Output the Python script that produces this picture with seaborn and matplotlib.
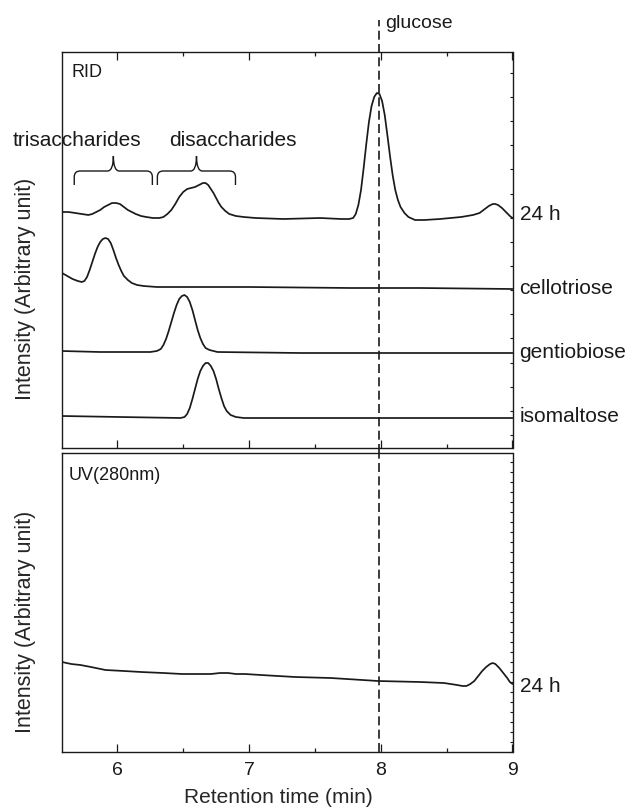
import numpy as np
import pandas as pd
import matplotlib
matplotlib.use("Agg")
import matplotlib.pyplot as plt
import matplotlib.transforms as mtrans
from matplotlib.path import Path
from matplotlib.patches import PathPatch
from matplotlib.ticker import MultipleLocator
import seaborn as sns

# ---------------- data ----------------
rid_24h_time = [5.58, 5.63, 5.68, 5.73, 5.78, 5.81, 5.84, 5.87, 5.90, 5.93, 5.96, 5.99,
                6.02, 6.05, 6.08, 6.11, 6.14, 6.18, 6.22, 6.27, 6.32, 6.35, 6.38, 6.41,
                6.44, 6.47, 6.50, 6.53, 6.56, 6.59, 6.62, 6.65, 6.67, 6.69, 6.71, 6.73,
                6.75, 6.77, 6.79, 6.82, 6.85, 6.90, 6.96, 7.05, 7.26, 7.54, 7.70, 7.76,
                7.79, 7.81, 7.83, 7.85, 7.87, 7.89, 7.91, 7.93, 7.95, 7.97, 7.99, 8.01,
                8.03, 8.05, 8.07, 8.09, 8.11, 8.13, 8.15, 8.18, 8.21, 8.26, 8.33, 8.45,
                8.61, 8.70, 8.75, 8.79, 8.82, 8.85, 8.87, 8.89, 8.92, 8.95, 8.98, 9.00]
rid_24h_int = [236, 236, 235, 234, 233, 234, 236, 238, 241, 243, 245, 245,
               244, 241, 238, 236, 234, 232, 231, 230, 230, 231, 234, 238,
               244, 251, 256, 259, 260, 261, 263, 265, 265, 263, 259, 255,
               250, 245, 241, 237, 234, 232, 231, 230, 229, 230, 229, 229,
               230, 234, 243, 258, 280, 304, 326, 342, 351, 355, 354, 347,
               333, 313, 292, 273, 258, 248, 241, 235, 231, 228, 228, 229,
               231, 233, 235, 239, 242, 244, 244, 243, 240, 236, 232, 230]

cello_time = [5.58, 5.62, 5.66, 5.70, 5.73, 5.75, 5.77, 5.79, 5.81, 5.83, 5.85, 5.87,
              5.89, 5.91, 5.93, 5.95, 5.97, 5.99, 6.01, 6.03, 6.05, 6.08, 6.11, 6.15,
              6.20, 6.30, 7.00, 7.77, 8.30, 9.00]
cello_int = [175, 172, 169, 167, 166, 167, 171, 178, 186, 194, 201, 206,
             209, 210, 209, 205, 198, 190, 183, 177, 172, 168, 165, 163,
             162, 161, 161, 160, 160, 159]

gentio_time = [5.58, 5.87, 6.25, 6.30, 6.33, 6.35, 6.37, 6.39, 6.41, 6.43, 6.45, 6.47,
               6.49, 6.51, 6.53, 6.55, 6.57, 6.59, 6.61, 6.63, 6.65, 6.67, 6.70, 6.76,
               7.39, 8.30, 9.00]
gentio_int = [97, 96, 96, 97, 99, 103, 109, 117, 126, 135, 143, 149,
              152, 153, 151, 146, 138, 128, 118, 110, 104, 100, 98, 96,
              95, 95, 95]

isomal_time = [5.58, 6.02, 6.48, 6.51, 6.53, 6.55, 6.57, 6.59, 6.61, 6.63, 6.65, 6.67,
               6.69, 6.71, 6.73, 6.75, 6.77, 6.79, 6.81, 6.83, 6.86, 6.90, 6.96, 7.54,
               8.30, 9.00]
isomal_int = [32, 31, 30, 31, 34, 40, 49, 59, 69, 77, 82, 85,
              85, 82, 77, 69, 59, 50, 42, 37, 33, 31, 30, 30,
              30, 30]

uv_24h_time = [5.58, 5.65, 5.72, 5.80, 5.91, 6.05, 6.18, 6.35, 6.49, 6.62, 6.71, 6.78,
               6.84, 6.90, 6.97, 7.09, 7.35, 7.62, 7.98, 8.30, 8.48, 8.53, 8.58, 8.62,
               8.65, 8.68, 8.71, 8.74, 8.77, 8.80, 8.83, 8.85, 8.87, 8.90, 8.93, 8.96,
               8.98, 9.00]
uv_24h_int = [90, 88, 87, 85, 82, 81, 80, 79, 78, 78, 78, 79,
              79, 78, 78, 77, 75, 74, 71, 70, 69, 68, 67, 66,
              66, 68, 71, 76, 81, 85, 88, 89, 88, 84, 79, 74,
              70, 68]

top_trace_labels = ["24 h", "cellotriose", "gentiobiose", "isomaltose"]
top_label_levels = [234, 160, 96, 32]
bottom_trace_label = "24 h"
bottom_label_level = 66

glucose_time = 7.985
x_ticks = [6, 7, 8, 9]
x_tick_labels = ["6", "7", "8", "9"]

brace_spans = [(5.673, 6.266, 5.970), (6.304, 6.897, 6.601)]
brace_labels = ["trisaccharides", "disaccharides"]
brace_label_pos = [5.69, 6.88]

# ---------------- style ----------------
sns.set_style("ticks")
plt.rcParams['font.family'] = ['Liberation Sans', 'DejaVu Sans']
INK = "#1a1a1a"
plt.rcParams['text.color'] = INK
plt.rcParams['axes.edgecolor'] = INK

W, H = 631, 809
fig = plt.figure(figsize=(W / 100, H / 100), dpi=100)
L, R = 62, 512.5
ax1 = fig.add_axes([L / W, 1 - 448 / H, (R - L) / W, (448 - 52) / H])
ax2 = fig.add_axes([L / W, 1 - 752 / H, (R - L) / W, (752 - 453) / H])

XLIM = (5.58, 9.0)


def draw(ax, t, v):
    df = pd.DataFrame({"time": t, "intensity": v})
    sns.lineplot(data=df, x="time", y="intensity", ax=ax, color=INK, lw=1.25,
                 estimator=None, sort=False)


for t, v in [(rid_24h_time, rid_24h_int), (cello_time, cello_int),
             (gentio_time, gentio_int), (isomal_time, isomal_int)]:
    draw(ax1, t, v)
draw(ax2, uv_24h_time, uv_24h_int)

ax1.set_xlim(*XLIM)
ax1.set_ylim(0, 396)
ax2.set_xlim(*XLIM)
ax2.set_ylim(0, 299)

for ax in (ax1, ax2):
    for s in ax.spines.values():
        s.set_linewidth(1.0)
        s.set_color(INK)
        s.set_visible(True)
    ax.set_xlabel("")
    ax.set_ylabel("")
    ax.set_xticks(x_ticks)
    ax.xaxis.set_minor_locator(MultipleLocator(0.5))

# top panel ticks
ax1.tick_params(axis="x", which="major", direction="in", length=6, width=0.9,
                top=True, bottom=True, labelbottom=False, color=INK)
ax1.tick_params(axis="x", which="minor", direction="in", length=3, width=0.9,
                top=True, bottom=True, color=INK)
ax1.yaxis.set_major_locator(MultipleLocator(24.15, offset=13))
ax1.tick_params(axis="y", which="major", direction="in", length=2.5, width=0.8,
                left=False, right=True, labelleft=False, labelright=False, color=INK)
# bottom panel ticks
ax2.set_xticklabels(x_tick_labels)
ax2.tick_params(axis="x", which="major", direction="in", length=6, width=0.9,
                top=False, bottom=True, labelsize=14, pad=7, color=INK, labelcolor=INK)
ax2.tick_params(axis="x", which="minor", direction="in", length=3, width=0.9,
                top=False, bottom=True, color=INK)
ax2.yaxis.set_major_locator(MultipleLocator(10))
ax2.tick_params(axis="y", which="major", direction="in", length=2.5, width=0.8,
                left=False, right=True, labelleft=False, labelright=False, color=INK)

# glucose line
dash = (0, (5.4, 2.6))
ax1.axvline(glucose_time, ymin=-0.013, ymax=(448 - 20) / 396, color=INK, lw=1.2,
            linestyle=dash, clip_on=False)
ax2.axvline(glucose_time, ymin=0, ymax=1, color=INK, lw=1.2, linestyle=dash)
ax1.text(glucose_time + 0.045, 425, "glucose", fontsize=14, ha="left", va="center")

# panel names
ax1.text(0.022, 0.949, "RID", transform=ax1.transAxes, fontsize=13, ha="left", va="center")
ax2.text(0.0155, 0.926, "UV(280nm)", transform=ax2.transAxes, fontsize=13,
         ha="left", va="center")

# right labels
for ax, labels, levels in [(ax1, top_trace_labels, top_label_levels),
                           (ax2, [bottom_trace_label], [bottom_label_level])]:
    tr = mtrans.blended_transform_factory(ax.transAxes, ax.transData)
    for lab, lev in zip(labels, levels):
        ax.text(1 + 7 / 450.5, lev, lab, transform=tr, fontsize=15,
                ha="left", va="center")


# braces
def brace(ax, x0, x1, xc, y_end=263, y_mid=277, y_tip=292, rx=0.045, ry=6):
    verts = [(x0, y_end), (x0, y_mid - ry), (x0, y_mid), (x0 + rx, y_mid),
             (xc - rx, y_mid), (xc, y_mid), (xc, y_tip),
             (xc, y_mid), (xc + rx, y_mid),
             (x1 - rx, y_mid), (x1, y_mid), (x1, y_mid - ry), (x1, y_end)]
    codes = [Path.MOVETO, Path.LINETO, Path.CURVE3, Path.CURVE3,
             Path.LINETO, Path.CURVE3, Path.CURVE3,
             Path.CURVE3, Path.CURVE3,
             Path.LINETO, Path.CURVE3, Path.CURVE3, Path.LINETO]
    ax.add_patch(PathPatch(Path(verts, codes), fill=False, lw=1.0, edgecolor=INK,
                           clip_on=False))


for (x0, x1, xc), lab, xp in zip(brace_spans, brace_labels, brace_label_pos):
    brace(ax1, x0, x1, xc)
    ax1.text(xp, 308, lab, fontsize=15, ha="center", va="center")

# axis labels
ax1.set_ylabel("Intensity (Arbitrary unit)", fontsize=15.5)
ax1.yaxis.set_label_coords(-0.058, (448 - 289) / 396)
ax2.set_ylabel("Intensity (Arbitrary unit)", fontsize=15.5)
ax2.yaxis.set_label_coords(-0.058, (752 - 622) / 299)
ax2.set_xlabel("Retention time (min)", fontsize=15)
ax2.xaxis.set_label_coords(0.48, -0.122)

fig.savefig("out.png", dpi=100)
